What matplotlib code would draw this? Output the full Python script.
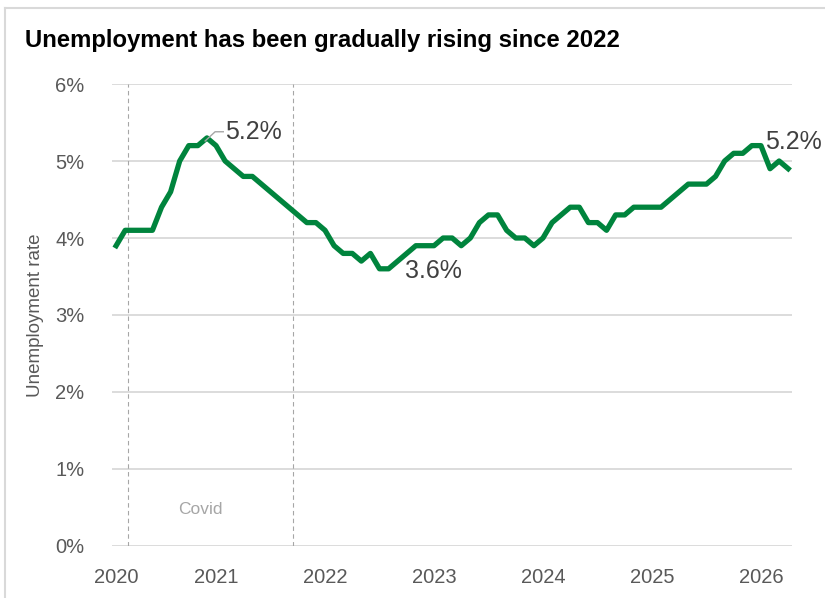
import numpy as np
import matplotlib
matplotlib.use('Agg')
import matplotlib.pyplot as plt
from matplotlib.lines import Line2D

plt.rcParams['font.family'] = ['Liberation Sans', 'DejaVu Sans']

# monthly unemployment rate, Jan 2020 - Mar 2026 (%)
rate = [3.9, 4.1, 4.1, 4.1, 4.1, 4.4, 4.6, 5.0, 5.2, 5.2, 5.3, 5.2,
        5.0, 4.9, 4.8, 4.8, 4.7, 4.6, 4.5, 4.4, 4.3, 4.2, 4.2, 4.1,
        3.9, 3.8, 3.8, 3.7, 3.8, 3.6, 3.6, 3.7, 3.8, 3.9, 3.9, 3.9,
        4.0, 4.0, 3.9, 4.0, 4.2, 4.3, 4.3, 4.1, 4.0, 4.0, 3.9, 4.0,
        4.2, 4.3, 4.4, 4.4, 4.2, 4.2, 4.1, 4.3, 4.3, 4.4, 4.4, 4.4,
        4.4, 4.5, 4.6, 4.7, 4.7, 4.7, 4.8, 5.0, 5.1, 5.1, 5.2, 5.2,
        4.9, 5.0, 4.9]
years = ['2020', '2021', '2022', '2023', '2024', '2025', '2026']
year_pos = [0, 11, 23, 35, 47, 59, 71]
covid = [1.3, 19.5]

months = np.arange(len(rate))
grey = '#595959'

fig = plt.figure(figsize=(8.25, 5.98), dpi=100)
ax = fig.add_axes([0.1358, 0.087, 0.824, 0.7725])

for v in range(7):
    ax.axhline(v, color='#d9d9d9', lw=1.3, zorder=0)
for c in covid:
    ax.axvline(c, color='#a6a6a6', lw=0.8, ls=(0, (4, 3)), zorder=1)

ax.plot(months, rate, color='#00843d', lw=3.8, solid_joinstyle='round', zorder=3)

ax.set_xlim(-0.45, 74.4)
ax.set_ylim(0, 6)
ax.set_yticks(range(7))
ax.set_yticklabels([f'{v}%' for v in range(7)])
ax.set_xticks(year_pos)
ax.set_xticklabels(years)
ax.tick_params(axis='y', length=0, pad=20, labelsize=14.5, labelcolor=grey)
ax.tick_params(axis='x', length=0, pad=16, labelsize=14.5, labelcolor=grey)
for s in ax.spines.values():
    s.set_visible(False)

ax.set_ylabel('Unemployment rate', fontsize=13.5, color=grey)
ax.yaxis.set_label_coords(-0.1, 0.5)

# annotations
peak = int(np.argmax(rate[:20]))
low = int(np.argmin(rate))
ax.plot([peak - 0.2, peak + 0.9, peak + 1.8], [rate[peak] - 0.04, rate[peak] + 0.08, rate[peak] + 0.08],
        color='#a6a6a6', lw=1.0, zorder=4)
ax.text(peak + 2.0, rate[peak] + 0.08, '5.2%', fontsize=18, color='#404040', va='center')
ax.text(low + 2.8, rate[low] - 0.03, '3.6%', fontsize=18, color='#404040', va='center')
ax.text(len(rate) - 3.5, rate[-4] + 0.05, '5.2%', fontsize=18, color='#404040', va='center')
ax.text(9.3, 0.48, 'Covid', fontsize=12.5, color='#a6a6a6', ha='center', va='center')

fig.text(25 / 825, 1 - 40 / 598, 'Unemployment has been gradually rising since 2022',
         fontsize=17.2, fontweight='bold', color='black', va='center', ha='left')

# light frame
fig.add_artist(Line2D([5 / 825, 1], [1 - 8 / 598] * 2, color='#d9d9d9', lw=1.5))
fig.add_artist(Line2D([5 / 825] * 2, [0, 1 - 8 / 598], color='#d9d9d9', lw=1.5))

fig.savefig('out.png', dpi=100)
